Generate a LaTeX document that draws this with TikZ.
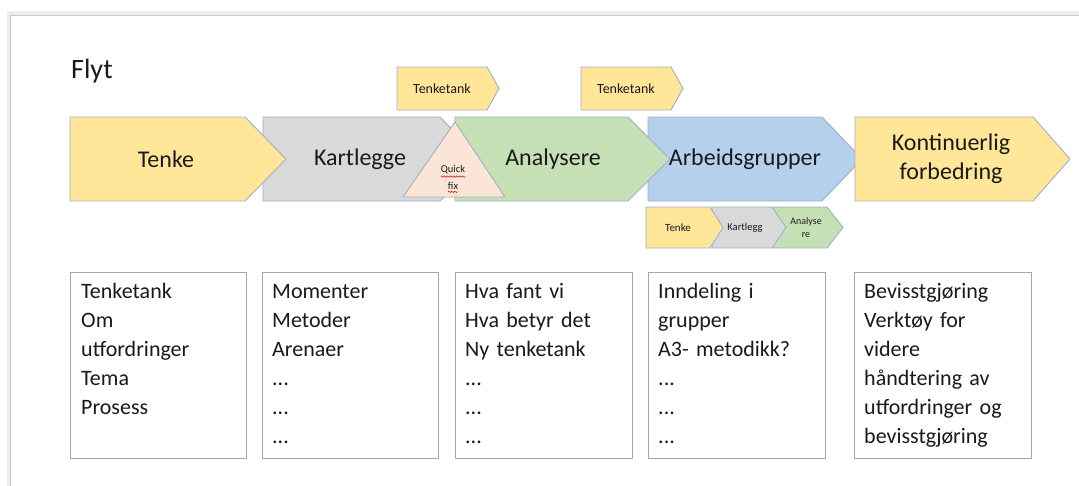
\documentclass[tikz,border=0pt]{standalone}
\usepackage{fontspec}
\setmainfont{Carlito}
\usetikzlibrary{decorations.pathmorphing}
\definecolor{cyel}{HTML}{FFE699}
\definecolor{cgray}{HTML}{D9D9D9}
\definecolor{cgreen}{HTML}{C5E0B4}
\definecolor{cblue}{HTML}{B4D0EC}
\definecolor{cpeach}{HTML}{FBE5D6}
\definecolor{cedge}{HTML}{9FB0C4}
\definecolor{ctext}{HTML}{1A1A1A}
\definecolor{cbox}{HTML}{A6A6A6}
\newcommand\pentpath[6]{%
  \path[#1] (#2,#5) -- (#3,#5) -- (#4,{(#5+#6)/2}) -- (#3,#6) -- (#2,#6) -- cycle;}
\begin{document}
\begin{tikzpicture}[x=1pt,y=-1pt,
  shp/.style={draw=cedge, line width=0.9pt},
  biglbl/.style={text=ctext, font=\fontsize{24}{29}\selectfont, align=center, inner sep=0pt},
  smlbl/.style={text=ctext, font=\fontsize{14}{17}\selectfont, inner sep=0pt},
  tinylbl/.style={text=ctext, font=\fontsize{10.5}{13}\selectfont, align=center, inner sep=0pt},
  listbox/.style={draw=cbox, line width=1.1pt, fill=white, anchor=north west, inner sep=0pt,
     minimum width=176pt, minimum height=186pt},
  listtxt/.style={text=ctext, font=\fontsize{22}{29}\selectfont, anchor=base west,
     inner sep=0pt, text width=170pt, align=left},
  squig/.style={draw=red!80!black, line width=0.5pt,
     decorate, decoration={snake, segment length=3pt, amplitude=0.7pt}}]
\useasboundingbox (0,0) rectangle (1079,485);
\fill[white] (0,0) rectangle (1079,485);
% slide frame shadow
\draw[black!7, line width=4pt] (8.5,490) -- (8.5,13) -- (1090,13);
\draw[black!22, line width=1pt] (10.5,490) -- (10.5,15.5) -- (1090,15.5);
% title
\node[anchor=base west, inner sep=0pt, text=ctext, font=\fontsize{28}{32}\selectfont] (flyt) at (71,78) {Flyt};
% small Tenketank arrows
\pentpath{shp, fill=cyel}{397}{487}{499}{67}{110}
\node[smlbl] (tt1) at (442,89) {Tenketank};
\pentpath{shp, fill=cyel}{581}{671}{683}{67}{110}
\node[smlbl] (tt2) at (626,89) {Tenketank};
% main flow arrows
\pentpath{shp, fill=cgray}{263}{440}{481}{117}{201}
\pentpath{shp, fill=cyel}{70}{245}{286}{117}{201}
\pentpath{shp, fill=cblue}{648}{822}{862}{117}{201}
\pentpath{shp, fill=cgreen}{455}{628}{670}{117}{201}
\pentpath{shp, fill=cyel}{855}{1033}{1070}{117}{201}
\path[shp, fill=cpeach] (455,122) -- (505,197) -- (403,197) -- cycle;
\node[biglbl] (tenke) at (166,159) {Tenke};
\node[biglbl] (kartlegge) at (360,159) {Kartlegge};
\node[biglbl] (analysere) at (553,159) {Analysere};
\node[biglbl] (arbeid) at (745,159) {Arbeidsgrupper};
\node[biglbl] (kont) at (951,159) {Kontinuerlig\\forbedring};
\node[tinylbl] (quick) at (453,170) {Quick};
\node[tinylbl] (fix) at (453,186) {fix};
\draw[squig] ([yshift=-2pt]quick.south west) -- ([yshift=-2pt]quick.south east);
\draw[squig] ([yshift=-2pt]fix.south west) -- ([yshift=-2pt]fix.south east);
% small sub-flow under Arbeidsgrupper
\pentpath{shp, fill=cgreen}{773}{827}{843}{207}{248}
\pentpath{shp, fill=cgray}{712}{772}{786}{207}{248}
\pentpath{shp, fill=cyel}{646}{710}{723}{207}{248}
\node[tinylbl, font=\fontsize{11}{13}\selectfont] (stenke) at (678,228) {Tenke};
\node[tinylbl] (skart) at (745,228) {Kartlegg};
\node[tinylbl, font=\fontsize{10}{13}\selectfont] (sanal) at (806,228) {Analyse\\re};
% list boxes
\node[listbox] (box1) at (70,272) {};
\node[listbox] (box2) at (262,272) {};
\node[listbox, minimum width=177pt] (box3) at (455,272) {};
\node[listbox, minimum width=177pt] (box4) at (648,272) {};
\node[listbox, minimum width=177pt] (box5) at (854,272) {};
\node[listtxt] (t1) at (81,298) {Tenketank\\Om\\utfordringer\\Tema\\Prosess};
\node[listtxt] (t2) at (272,298) {Momenter\\Metoder\\Arenaer\\...\\...\\...};
\node[listtxt] (t3) at (465,298) {Hva fant vi\\Hva betyr det\\Ny tenketank\\...\\...\\...};
\node[listtxt] (t4) at (658,298) {Inndeling i\\grupper\\A3- metodikk?\\...\\...\\...};
\node[listtxt] (t5) at (864,298) {Bevisstgjøring\\Verktøy for\\videre\\håndtering av\\utfordringer og\\bevisstgjøring};
\end{tikzpicture}
\end{document}
